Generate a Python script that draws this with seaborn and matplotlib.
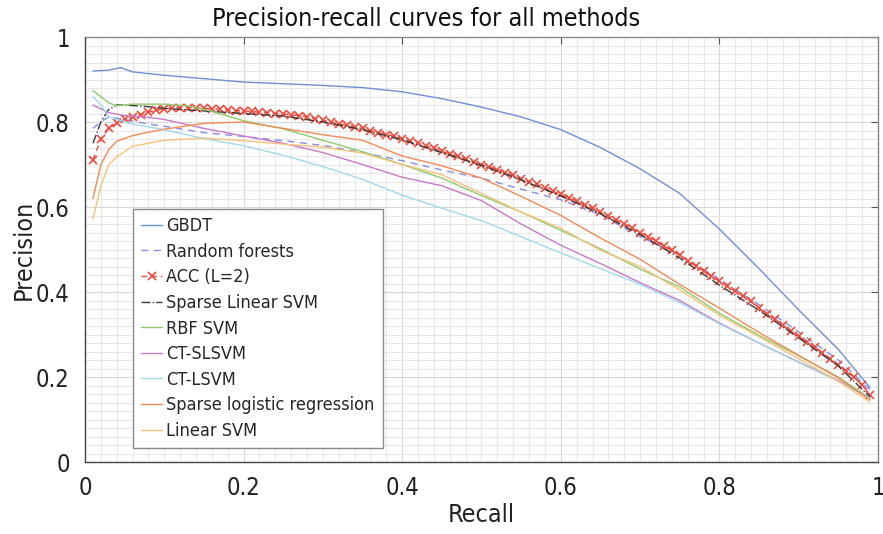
"""
Precision-recall curves for all methods — seaborn recreation
"""

import numpy as np
import matplotlib
matplotlib.use("Agg")
import matplotlib.pyplot as plt
from matplotlib.ticker import MultipleLocator
import seaborn as sns

sns.set_style("whitegrid")
plt.rcParams["font.family"] = ["Liberation Sans Narrow", "DejaVu Sans"]
plt.rcParams["font.stretch"] = "condensed"

# ---- data ----
gbdt_x = [0.01, 0.03, 0.045, 0.06, 0.1, 0.15, 0.2, 0.25, 0.3, 0.35, 0.4, 0.45, 0.5,
          0.55, 0.6, 0.65, 0.7, 0.75, 0.8, 0.85, 0.9, 0.95, 0.99]
gbdt_y = [0.920, 0.922, 0.928, 0.918, 0.910, 0.902, 0.894, 0.890, 0.886, 0.881, 0.871,
          0.855, 0.835, 0.812, 0.782, 0.740, 0.690, 0.632, 0.548, 0.455, 0.358, 0.265, 0.175]

rf_x = [0.01, 0.02, 0.03, 0.05, 0.08, 0.1, 0.15, 0.2, 0.25, 0.3, 0.35, 0.4, 0.45, 0.5,
        0.55, 0.6, 0.65, 0.7, 0.75, 0.8, 0.85, 0.9, 0.95, 0.99]
rf_y = [0.785, 0.800, 0.812, 0.806, 0.795, 0.790, 0.775, 0.766, 0.756, 0.745, 0.728, 0.709,
        0.687, 0.668, 0.642, 0.617, 0.582, 0.530, 0.487, 0.430, 0.370, 0.306, 0.240, 0.170]

acc_x = np.arange(1, 100) / 100
acc_y = [0.711, 0.760, 0.785, 0.797, 0.806, 0.812, 0.817, 0.823, 0.828, 0.831,
         0.833, 0.834, 0.834, 0.833, 0.832, 0.831, 0.830, 0.829, 0.827, 0.826,
         0.825, 0.823, 0.822, 0.820, 0.819, 0.817, 0.815, 0.812, 0.808, 0.804,
         0.800, 0.796, 0.792, 0.789, 0.785, 0.780, 0.775, 0.770, 0.766, 0.761,
         0.755, 0.750, 0.744, 0.738, 0.731, 0.725, 0.720, 0.713, 0.707, 0.700,
         0.694, 0.688, 0.681, 0.675, 0.667, 0.660, 0.653, 0.645, 0.637, 0.630,
         0.622, 0.614, 0.605, 0.597, 0.588, 0.579, 0.570, 0.560, 0.550, 0.540,
         0.530, 0.520, 0.509, 0.498, 0.486, 0.474, 0.462, 0.450, 0.438, 0.425,
         0.413, 0.402, 0.390, 0.378, 0.363, 0.349, 0.336, 0.322, 0.309, 0.296,
         0.283, 0.270, 0.257, 0.243, 0.229, 0.214, 0.199, 0.182, 0.158]

sls_x = [0.01, 0.02, 0.03, 0.04, 0.05, 0.08, 0.1, 0.15, 0.2, 0.25, 0.3, 0.35, 0.4, 0.45,
         0.5, 0.55, 0.6, 0.65, 0.7, 0.75, 0.8, 0.85, 0.9, 0.95, 0.99]
sls_y = [0.750, 0.800, 0.830, 0.840, 0.840, 0.836, 0.832, 0.826, 0.820, 0.814, 0.800, 0.782,
         0.758, 0.728, 0.698, 0.664, 0.626, 0.584, 0.535, 0.480, 0.416, 0.357, 0.292, 0.226, 0.153]

rbf_x = [0.01, 0.03, 0.04, 0.06, 0.1, 0.13, 0.16, 0.2, 0.25, 0.3, 0.35, 0.4, 0.45, 0.5,
         0.55, 0.6, 0.65, 0.7, 0.75, 0.8, 0.85, 0.9, 0.95, 0.99]
rbf_y = [0.874, 0.845, 0.838, 0.842, 0.842, 0.838, 0.825, 0.803, 0.784, 0.757, 0.730, 0.700,
         0.668, 0.627, 0.588, 0.545, 0.502, 0.454, 0.412, 0.350, 0.298, 0.250, 0.200, 0.150]

ctsl_x = [0.01, 0.03, 0.05, 0.08, 0.1, 0.15, 0.2, 0.25, 0.3, 0.35, 0.4, 0.45, 0.5, 0.55,
          0.6, 0.65, 0.7, 0.75, 0.8, 0.85, 0.9, 0.95, 0.99]
ctsl_y = [0.840, 0.822, 0.815, 0.811, 0.806, 0.785, 0.767, 0.750, 0.728, 0.700, 0.670, 0.650,
          0.615, 0.560, 0.510, 0.467, 0.422, 0.380, 0.327, 0.280, 0.235, 0.192, 0.150]

ctl_x = [0.01, 0.02, 0.03, 0.06, 0.1, 0.15, 0.2, 0.25, 0.3, 0.35, 0.4, 0.45, 0.5, 0.55,
         0.6, 0.65, 0.7, 0.75, 0.8, 0.85, 0.9, 0.95, 0.99]
ctl_y = [0.860, 0.840, 0.812, 0.795, 0.782, 0.761, 0.744, 0.722, 0.695, 0.665, 0.628, 0.597,
         0.568, 0.530, 0.492, 0.455, 0.418, 0.375, 0.325, 0.280, 0.234, 0.190, 0.150]

slr_x = [0.01, 0.02, 0.03, 0.04, 0.06, 0.08, 0.1, 0.15, 0.2, 0.25, 0.3, 0.35, 0.4, 0.45,
         0.5, 0.55, 0.6, 0.65, 0.7, 0.75, 0.8, 0.85, 0.9, 0.95, 0.99]
slr_y = [0.620, 0.700, 0.735, 0.755, 0.768, 0.776, 0.783, 0.797, 0.800, 0.785, 0.770, 0.757,
         0.720, 0.697, 0.668, 0.625, 0.580, 0.527, 0.477, 0.418, 0.362, 0.305, 0.251, 0.198, 0.146]

lsvm_x = [0.01, 0.02, 0.03, 0.04, 0.06, 0.1, 0.15, 0.2, 0.25, 0.3, 0.35, 0.4, 0.45, 0.5,
          0.55, 0.6, 0.65, 0.7, 0.75, 0.8, 0.85, 0.9, 0.95, 0.99]
lsvm_y = [0.572, 0.650, 0.700, 0.718, 0.743, 0.757, 0.762, 0.756, 0.748, 0.741, 0.727, 0.700,
          0.676, 0.632, 0.588, 0.550, 0.498, 0.460, 0.405, 0.345, 0.295, 0.243, 0.190, 0.141]

series = [
    ("GBDT", gbdt_x, gbdt_y, "#6f8fd6", "-", None),
    ("Random forests", rf_x, rf_y, "#8a8ae0", (0, (5, 4)), None),
    ("ACC (L=2)", acc_x, acc_y, "#ee4a3c", (0, (4, 3)), "x"),
    ("Sparse Linear SVM", sls_x, sls_y, "#3a3a3a", "-.", None),
    ("RBF SVM", rbf_x, rbf_y, "#8fca6e", "-", None),
    ("CT-SLSVM", ctsl_x, ctsl_y, "#c77ac9", "-", None),
    ("CT-LSVM", ctl_x, ctl_y, "#a3d9ea", "-", None),
    ("Sparse logistic regression", slr_x, slr_y, "#f28a55", "-", None),
    ("Linear SVM", lsvm_x, lsvm_y, "#f6c27a", "-", None),
]

fig = plt.figure(figsize=(8.83, 5.34), dpi=100)
ax = fig.add_axes([0.0963, 0.1348, 0.898, 0.7959])

for name, xs, ys, col, ls, mk in series:
    kw = {}
    if mk:
        kw = dict(marker=mk, markersize=5.5, markeredgewidth=1.2,
                  markeredgecolor=col, markerfacecolor=col)
    sns.lineplot(x=xs, y=ys, ax=ax, color=col, linestyle=ls, linewidth=1.0,
                 label=name, sort=False, **kw)

ax.set_xlim(0, 1)
ax.set_ylim(0, 1)
ax.xaxis.set_major_locator(MultipleLocator(0.2))
ax.yaxis.set_major_locator(MultipleLocator(0.2))
ax.xaxis.set_minor_locator(MultipleLocator(0.02))
ax.yaxis.set_minor_locator(MultipleLocator(0.02))
ax.xaxis.set_major_formatter(lambda v, p: f"{v:g}")
ax.yaxis.set_major_formatter(lambda v, p: f"{v:g}")
ax.grid(which="major", color="#d8d8d8", linewidth=0.8)
ax.grid(which="minor", color="#e4e4e4", linewidth=0.6)
ax.set_axisbelow(True)
ax.tick_params(which="major", direction="in", length=5, top=True, right=True,
               labelsize=17, color="#555555", labelcolor="#222222")
ax.tick_params(axis="x", which="major", pad=10)
ax.tick_params(axis="y", which="major", pad=11)
ax.tick_params(which="minor", length=0)
for s in ax.spines.values():
    s.set_color("#8a8a8a")
    s.set_linewidth(1.0)
ax.spines["left"].set_color("#444444")
ax.spines["bottom"].set_color("#444444")

ax.set_xlabel("Recall", fontsize=18, color="#222222", labelpad=2)
ax.set_ylabel("Precision", fontsize=18, color="#222222", labelpad=0)
ax.set_title("Precision-recall curves for all methods", fontsize=18, color="#111111",
             x=0.43, pad=8)

leg = ax.legend(loc="lower left", bbox_to_anchor=(0.06, 0.033), borderaxespad=0,
                fontsize=13, handlelength=1.2, handletextpad=0.2, labelspacing=0.42,
                frameon=True, fancybox=False, framealpha=1, edgecolor="#8a8a8a",
                borderpad=0.45)
leg.get_frame().set_linewidth(1.0)

fig.savefig("out.png", dpi=100)
